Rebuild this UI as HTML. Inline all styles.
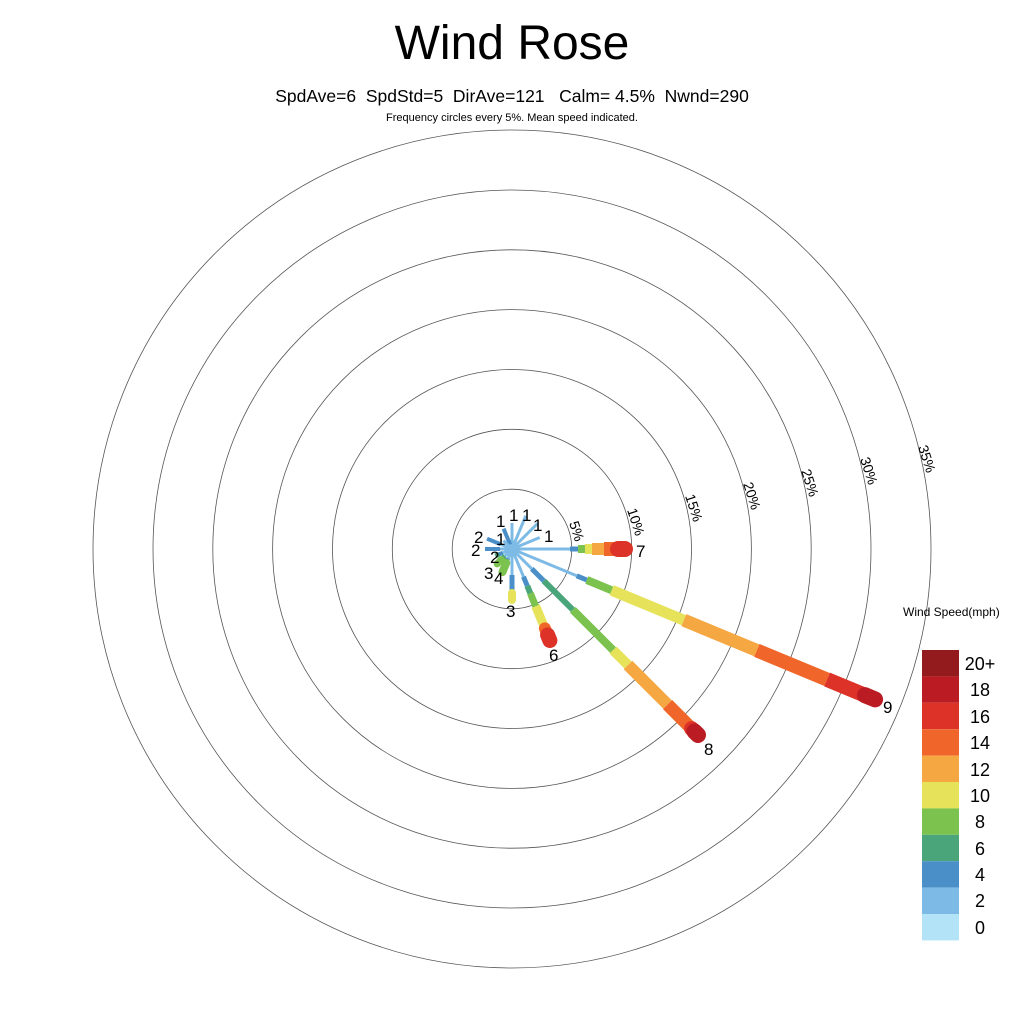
<!DOCTYPE html>
<html><head><meta charset="utf-8"><style>
html,body{margin:0;padding:0;background:#fff;}
svg{display:block;font-family:"Liberation Sans",sans-serif;}
</style></head><body>
<svg width="1024" height="1024" viewBox="0 0 1024 1024" xmlns="http://www.w3.org/2000/svg">
<rect width="1024" height="1024" fill="#fff"/>
<text x="512" y="59" font-size="48" text-anchor="middle">Wind Rose</text>
<text x="512" y="102" font-size="17.5" text-anchor="middle" style="white-space:pre">SpdAve=6  SpdStd=5  DirAve=121   Calm= 4.5%  Nwnd=290</text>
<text x="512" y="121" font-size="11" text-anchor="middle">Frequency circles every 5%. Mean speed indicated.</text>
<g fill="none" stroke="#555" stroke-width="0.8">
<circle cx="512" cy="549" r="59.8"/><circle cx="512" cy="549" r="119.7"/><circle cx="512" cy="549" r="179.5"/>
<circle cx="512" cy="549" r="239.4"/><circle cx="512" cy="549" r="299.2"/><circle cx="512" cy="549" r="359"/><circle cx="512" cy="549" r="419"/>
</g>
<g font-size="14" fill="#000">
<text transform="translate(569,523) rotate(72)">5%</text>
<text transform="translate(627,510) rotate(72)">10%</text>
<text transform="translate(685,496) rotate(72)">15%</text>
<text transform="translate(743,484) rotate(72)">20%</text>
<text transform="translate(801,471) rotate(72)">25%</text>
<text transform="translate(860,459) rotate(72)">30%</text>
<text transform="translate(918,447) rotate(72)">35%</text>
</g>
<g stroke-linecap="butt">
<g transform="translate(512,549)">
<line x1="0" y1="0" x2="0" y2="-26" stroke="#7dbbe6" stroke-width="3" transform="rotate(0)"/>
<line x1="0" y1="0" x2="0" y2="-22" stroke="#4a8fc8" stroke-width="4" transform="rotate(-22.5)"/>
<line x1="0" y1="0" x2="0" y2="-36" stroke="#7dbbe6" stroke-width="3" transform="rotate(22.5)"/>
<line x1="0" y1="0" x2="0" y2="-36" stroke="#7dbbe6" stroke-width="3" transform="rotate(45)"/>
<line x1="0" y1="0" x2="0" y2="-30" stroke="#7dbbe6" stroke-width="3" transform="rotate(67.5)"/>
<line x1="0" y1="0" x2="0" y2="-12" stroke="#7dbbe6" stroke-width="3" transform="rotate(-45)"/>
<g transform="rotate(-67.5)"><line x1="0" y1="0" x2="0" y2="-12" stroke="#7dbbe6" stroke-width="3"/><line x1="0" y1="-12" x2="0" y2="-27" stroke="#4a8fc8" stroke-width="4"/></g>
<g transform="rotate(-90)"><line x1="0" y1="0" x2="0" y2="-12" stroke="#7dbbe6" stroke-width="3"/><line x1="0" y1="-12" x2="0" y2="-27" stroke="#4a8fc8" stroke-width="4"/></g>
<g transform="rotate(-112.5)"><line x1="0" y1="0" x2="0" y2="-10" stroke="#7dbbe6" stroke-width="3"/><line x1="0" y1="-10" x2="0" y2="-17" stroke="#4a8fc8" stroke-width="4"/><line x1="0" y1="-14" x2="0" y2="-18" stroke="#4aa67a" stroke-width="5"/></g>
<g transform="rotate(-135)"><line x1="0" y1="0" x2="0" y2="-10" stroke="#7dbbe6" stroke-width="3"/><line x1="0" y1="-10" x2="0" y2="-15" stroke="#4aa67a" stroke-width="5"/><line x1="0" y1="-15" x2="0" y2="-21" stroke="#7bc24e" stroke-width="7" stroke-linecap="round"/></g>
<g transform="rotate(-157.5)"><line x1="0" y1="0" x2="0" y2="-10" stroke="#7dbbe6" stroke-width="3"/><line x1="0" y1="-10" x2="0" y2="-15" stroke="#4a8fc8" stroke-width="4"/><line x1="0" y1="-15" x2="0" y2="-25" stroke="#7bc24e" stroke-width="8" stroke-linecap="round"/></g>
<g transform="rotate(180)"><line x1="0" y1="0" x2="0" y2="-26" stroke="#7dbbe6" stroke-width="3"/><line x1="0" y1="-26" x2="0" y2="-44" stroke="#4a8fc8" stroke-width="5"/><line x1="0" y1="-44" x2="0" y2="-51" stroke="#e6e35a" stroke-width="8" stroke-linecap="round"/></g>
<g transform="rotate(157.5)">
<line x1="0" y1="0" x2="0" y2="-30" stroke="#7dbbe6" stroke-width="3"/>
<line x1="0" y1="-30" x2="0" y2="-40" stroke="#4a8fc8" stroke-width="5"/>
<line x1="0" y1="-40" x2="0" y2="-48" stroke="#4aa67a" stroke-width="6"/>
<line x1="0" y1="-48" x2="0" y2="-62" stroke="#7bc24e" stroke-width="7"/>
<line x1="0" y1="-62" x2="0" y2="-86" stroke="#e6e35a" stroke-width="9"/>
<line x1="0" y1="-86" x2="0" y2="-92" stroke="#f06529" stroke-width="12" stroke-linecap="round"/>
<line x1="0" y1="-93" x2="0" y2="-99" stroke="#dc3228" stroke-width="15" stroke-linecap="round"/>
</g>
<g transform="rotate(135)">
<line x1="0" y1="0" x2="0" y2="-28" stroke="#7dbbe6" stroke-width="3"/>
<line x1="0" y1="-28" x2="0" y2="-45" stroke="#4a8fc8" stroke-width="5"/>
<line x1="0" y1="-45" x2="0" y2="-86" stroke="#4aa67a" stroke-width="6"/>
<line x1="0" y1="-86" x2="0" y2="-143" stroke="#7bc24e" stroke-width="8"/>
<line x1="0" y1="-143" x2="0" y2="-164" stroke="#e6e35a" stroke-width="10"/>
<line x1="0" y1="-164" x2="0" y2="-220" stroke="#f5a742" stroke-width="12"/>
<line x1="0" y1="-220" x2="0" y2="-255" stroke="#f06529" stroke-width="13"/>
<line x1="0" y1="-254" x2="0" y2="-260" stroke="#dc3228" stroke-width="15" stroke-linecap="round"/>
<line x1="0" y1="-258" x2="0" y2="-263" stroke="#bb1c24" stroke-width="16" stroke-linecap="round"/>
</g>
<g transform="rotate(112.5)">
<line x1="0" y1="0" x2="0" y2="-70" stroke="#7dbbe6" stroke-width="3"/>
<line x1="0" y1="-70" x2="0" y2="-81" stroke="#4a8fc8" stroke-width="5"/>
<line x1="0" y1="-81" x2="0" y2="-108" stroke="#7bc24e" stroke-width="8"/>
<line x1="0" y1="-108" x2="0" y2="-186" stroke="#e6e35a" stroke-width="11"/>
<line x1="0" y1="-186" x2="0" y2="-265" stroke="#f5a742" stroke-width="13"/>
<line x1="0" y1="-265" x2="0" y2="-341" stroke="#f06529" stroke-width="14"/>
<line x1="0" y1="-341" x2="0" y2="-380" stroke="#dc3228" stroke-width="15"/>
<line x1="0" y1="-382" x2="0" y2="-393" stroke="#bb1c24" stroke-width="16" stroke-linecap="round"/>
</g>
<g transform="rotate(90)">
<line x1="0" y1="0" x2="0" y2="-58" stroke="#7dbbe6" stroke-width="3"/>
<line x1="0" y1="-58" x2="0" y2="-66" stroke="#4a8fc8" stroke-width="5"/>
<line x1="0" y1="-66" x2="0" y2="-73" stroke="#7bc24e" stroke-width="8"/>
<line x1="0" y1="-73" x2="0" y2="-80" stroke="#e6e35a" stroke-width="10"/>
<line x1="0" y1="-80" x2="0" y2="-92" stroke="#f5a742" stroke-width="12"/>
<line x1="0" y1="-92" x2="0" y2="-103" stroke="#f06529" stroke-width="14"/>
<line x1="0" y1="-106" x2="0" y2="-113" stroke="#dc3228" stroke-width="16" stroke-linecap="round"/>
</g>
<circle cx="0" cy="0" r="5" fill="#7dbbe6"/>
</g>
</g>
<g font-size="17" fill="#000">
<text x="496" y="527">1</text><text x="509" y="521">1</text><text x="522" y="521">1</text>
<text x="533" y="531">1</text><text x="544" y="542">1</text><text x="496" y="545">1</text>
<text x="474" y="543">2</text><text x="471" y="556">2</text><text x="490" y="563">2</text>
<text x="484" y="579">3</text><text x="494" y="584">4</text><text x="506" y="617">3</text>
<text x="549" y="661">6</text><text x="636" y="557">7</text><text x="704" y="755">8</text><text x="883" y="713">9</text>
</g>
<text x="903" y="616" font-size="12">Wind Speed(mph)</text>
<g>
<rect x="922" y="650" width="37" height="26.4" fill="#931b1d"/>
<rect x="922" y="676.4" width="37" height="26.4" fill="#bb1c24"/>
<rect x="922" y="702.8" width="37" height="26.4" fill="#dc3228"/>
<rect x="922" y="729.2" width="37" height="26.4" fill="#f06529"/>
<rect x="922" y="755.6" width="37" height="26.4" fill="#f5a742"/>
<rect x="922" y="782" width="37" height="26.4" fill="#e6e35a"/>
<rect x="922" y="808.4" width="37" height="26.4" fill="#7bc24e"/>
<rect x="922" y="834.8" width="37" height="26.4" fill="#4aa67a"/>
<rect x="922" y="861.2" width="37" height="26.4" fill="#4a8fc8"/>
<rect x="922" y="887.6" width="37" height="26.4" fill="#7dbbe6"/>
<rect x="922" y="914" width="37" height="26.4" fill="#b3e3f7"/>
</g>
<g font-size="18" fill="#000" text-anchor="middle">
<text x="980" y="670">20+</text><text x="980" y="696">18</text><text x="980" y="723">16</text>
<text x="980" y="749">14</text><text x="980" y="776">12</text><text x="980" y="802">10</text>
<text x="980" y="828">8</text><text x="980" y="855">6</text><text x="980" y="881">4</text>
<text x="980" y="907">2</text><text x="980" y="934">0</text>
</g>
</svg>
</body></html>
